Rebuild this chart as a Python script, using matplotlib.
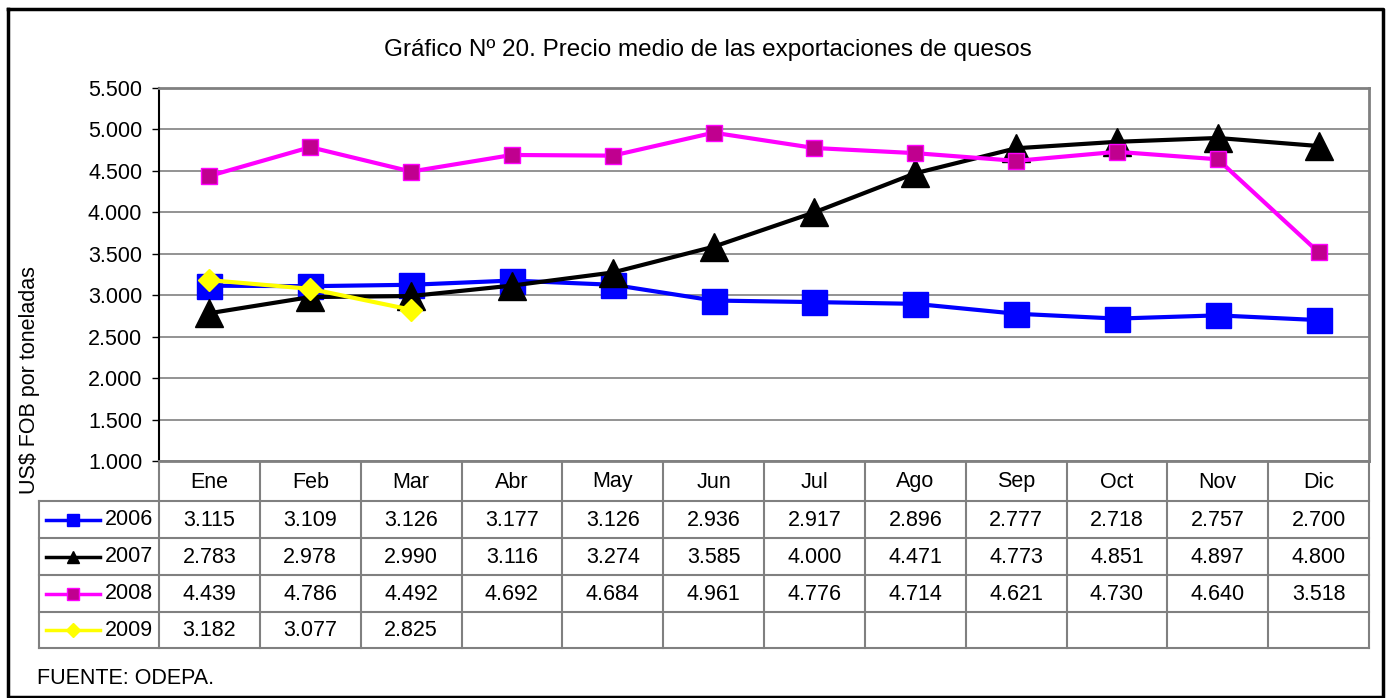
import matplotlib
matplotlib.use("Agg")
import matplotlib.pyplot as plt
from matplotlib.lines import Line2D

plt.rcParams['font.family'] = ['Liberation Sans', 'DejaVu Sans']

months = ["Ene", "Feb", "Mar", "Abr", "May", "Jun", "Jul", "Ago", "Sep", "Oct", "Nov", "Dic"]
years = ["2006", "2007", "2008", "2009"]
v2006 = [3115, 3109, 3126, 3177, 3126, 2936, 2917, 2896, 2777, 2718, 2757, 2700]
v2007 = [2783, 2978, 2990, 3116, 3274, 3585, 4000, 4471, 4773, 4851, 4897, 4800]
v2008 = [4439, 4786, 4492, 4692, 4684, 4961, 4776, 4714, 4621, 4730, 4640, 3518]
v2009 = [3182, 3077, 2825]
series = [v2006, v2007, v2008, v2009]
yticks = [1000, 1500, 2000, 2500, 3000, 3500, 4000, 4500, 5000, 5500]

title = "Gráfico Nº 20. Precio medio de las exportaciones de quesos"
ylabel = "US$ FOB por toneladas"
source = "FUENTE: ODEPA."

# style per series: color, marker, size, face, edge
styles = [
    dict(color="#0000FF", marker="s", ms=18, mfc="#0000FF", mec="#0000FF"),
    dict(color="#000000", marker="^", ms=20, mfc="#000000", mec="#000000"),
    dict(color="#FF00FF", marker="s", ms=12, mfc="#C0008F", mec="#FF00FF"),
    dict(color="#FFFF00", marker="D", ms=11, mfc="#FFFF00", mec="#FFFF00"),
]
leg_ms = [9, 8, 8, 7]

W, H = 1387, 698
fig = plt.figure(figsize=(W / 100, H / 100), dpi=100)

# pixel layout
x0, x1 = 159, 1369
y_top, y_bot = 88, 461
rows = [461, 501, 538, 575, 612, 648]
tab_left = 39
gray = "#808080"
fs = 15.5

def fx(px):
    return px / W

def fy(py):
    return 1 - py / H

ax = fig.add_axes([fx(x0), fy(y_bot), fx(x1) - fx(x0), fy(y_top) - fy(y_bot)])
for i, (vals, st) in enumerate(zip(series, styles)):
    ax.plot(range(len(vals)), vals, color=st["color"], lw=3, marker=st["marker"],
            ms=st["ms"], mfc=st["mfc"], mec=st["mec"], mew=1, zorder=3 + i, clip_on=False)
ax.set_xlim(-0.5, 11.5)
ax.set_ylim(1000, 5500)
ax.set_yticks(yticks)
ax.set_yticklabels([f"{t / 1000:.3f}" for t in yticks], fontsize=fs)
ax.set_xticks([])
ax.grid(axis="y", color=gray, lw=1.2)
ax.set_axisbelow(True)
ax.tick_params(axis="y", length=5, width=1, pad=7, color="#000000")
ax.spines["left"].set_color("#000000")
ax.spines["left"].set_linewidth(1.5)
for s in ["top", "right", "bottom"]:
    ax.spines[s].set_color(gray)
    ax.spines[s].set_linewidth(2)

# overlay in pixel coordinates for table, border and texts
ov = fig.add_axes([0, 0, 1, 1], zorder=-1)
ov.set_xlim(0, W)
ov.set_ylim(H, 0)
ov.axis("off")
ov.patch.set_alpha(0)

colw = (x1 - x0) / len(months)
# horizontal table lines
ov.plot([x0, x1], [rows[0], rows[0]], color=gray, lw=1.5)
for r in rows[1:]:
    ov.plot([tab_left, x1], [r, r], color=gray, lw=1.5)
# vertical lines
ov.plot([tab_left, tab_left], [rows[1], rows[-1]], color=gray, lw=1.5)
for j in range(len(months) + 1):
    ov.plot([x0 + j * colw] * 2, [rows[0], rows[-1]], color=gray, lw=1.5)

for j, m in enumerate(months):
    ov.text(x0 + (j + 0.5) * colw, (rows[0] + rows[1]) / 2 + 1, m, ha="center", va="center", fontsize=fs)

for i, (yr, vals, st) in enumerate(zip(years, series, styles)):
    yc = (rows[i + 1] + rows[i + 2]) / 2
    ov.add_line(Line2D([46, 100], [yc, yc], color=st["color"], lw=2.5))
    ov.add_line(Line2D([73], [yc], marker=st["marker"], ms=leg_ms[i], mfc=st["mfc"],
                       mec=st["mec"], color=st["color"], lw=0))
    ov.text(105, yc, yr, ha="left", va="center", fontsize=fs)
    for j, v in enumerate(vals):
        ov.text(x0 + (j + 0.5) * colw, yc + 1, f"{v / 1000:.3f}", ha="center", va="center", fontsize=fs)

# outer border
ov.plot([8, 1383, 1383, 8, 8], [9, 9, 697, 697, 9], color="#000000", lw=2.5, clip_on=False)

ov.text(708, 50, title, ha="center", va="center", fontsize=17.5)
ov.text(30, 380, ylabel, ha="center", va="center", rotation=90, fontsize=fs)
ov.text(37, 678, source, ha="left", va="center", fontsize=fs)

fig.savefig("out.png", dpi=100)
